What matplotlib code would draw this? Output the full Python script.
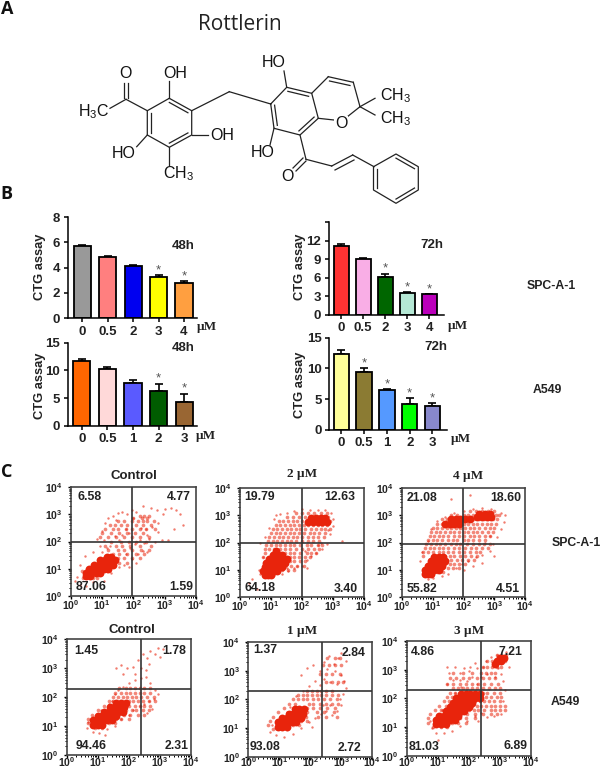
import numpy as np
import matplotlib
matplotlib.use('Agg')
import matplotlib.pyplot as plt

plt.rcParams['font.family'] = ['Liberation Sans', 'DejaVu Sans']
plt.rcParams['mathtext.fontset'] = 'custom'
plt.rcParams['mathtext.rm'] = 'Liberation Sans'
plt.rcParams['mathtext.bf'] = 'Liberation Sans:bold'

### BAR DATA ###
b1_labels = ['0', '0.5', '2', '3', '4']
b1_vals = [5.7, 4.85, 4.15, 3.25, 2.8]
b1_errs = [0.1, 0.05, 0.08, 0.15, 0.1]
b1_stars = [0, 0, 0, 1, 1]
b1_colors = ['#999999', '#FF7F7F', '#0000F0', '#FFFF00', '#FF9F40']

b2_labels = ['0', '0.5', '1', '2', '3']
b2_vals = [11.7, 10.2, 7.7, 6.3, 4.3]
b2_errs = [0.3, 0.4, 0.5, 1.3, 1.5]
b2_stars = [0, 0, 0, 1, 1]
b2_colors = ['#FF6600', '#FFD9D9', '#5A5AFF', '#005C00', '#996633']

b3_labels = ['0', '0.5', '2', '3', '4']
b3_vals = [11.2, 9.05, 6.2, 3.5, 3.3]
b3_errs = [0.2, 0.1, 0.45, 0.15, 0.05]
b3_stars = [0, 0, 1, 1, 1]
b3_colors = ['#FF3333', '#F9AEE6', '#006600', '#B5E8D5', '#BB00BB']

b4_labels = ['0', '0.5', '1', '2', '3']
b4_vals = [12.3, 9.4, 6.5, 4.2, 3.9]
b4_errs = [0.7, 0.6, 0.15, 0.9, 0.4]
b4_stars = [0, 1, 1, 1, 1]
b4_colors = ['#FFFF99', '#8B7B33', '#5599FF', '#00FF00', '#8888CC']

### FLOW DATA, log10 of both channels: rows are (y, [x, ...]) ###
c1_core = [(.72,[.5,.62]),(.85,[.5,.65,.8,.95]),(1.0,[.6,.75,.9,1.05,1.2]),(1.15,[.75,.9,1.05,1.2,1.35]),(1.3,[.95,1.1,1.25,1.4]),(1.42,[1.15,1.3])]
c1_fill = [(2.95,[2.2,2.35,2.5]),(2.88,[2.0,2.28,2.42]),(2.75,[1.5,1.7,1.95,2.15,2.3,2.45,2.65]),(2.6,[1.25,1.4,1.6,1.8,2.1,2.3,2.55]),(2.45,[1.1,1.35,1.5,1.75,1.95,2.2,2.4,2.7]),(2.3,[1.0,1.3,1.55,1.8,2.05,2.3]),(2.15,[.95,1.2,1.45,1.7,1.95,2.2,2.5]),(2.0,[1.3,1.6,1.85,2.1,2.4]),(1.85,[1.1,1.45,1.65,1.9,2.2,2.55]),(1.7,[1.2,1.5,1.7,1.95,2.25,2.5]),(1.55,[1.35,1.55,1.8,2.1,2.35]),(1.4,[1.5,1.7,1.95,2.2]),(1.2,[1.55,1.8]),(.9,[.35,1.15]),(.65,[.4,.7,.85])]
c1_sparse = [(1.0,2.4),(1.1,2.7),(1.2,2.85),(1.35,2.95),(1.5,3.05),(1.65,3.1),(1.8,3.0),(1.95,3.15),(2.1,3.1),(2.0,2.85),(1.85,2.3),(1.65,2.25),(1.4,2.2),(1.05,2.05),(.85,2.1),(1.25,1.85),(1.75,1.55),(1.9,1.75),(2.05,1.9),(2.2,2.05),(2.35,1.95),(2.5,2.1),(2.7,2.0),(2.9,2.05),(3.1,2.05),(2.4,2.45),(2.6,2.55),(2.8,2.7),(2.95,3.0),(2.75,3.15),(3.0,3.2),(3.2,3.22),(3.35,3.15),(3.5,3.0),(3.6,2.6),(2.55,3.25),(2.3,3.3),(2.15,1.55),(2.3,1.65),(2.45,1.6),(1.95,1.35),(2.1,1.2),(1.7,1.15),(1.85,1.05),(.3,1.15),(.2,.7),(.15,.55),(.3,.4),(.5,.35),(.7,.5),(1.05,.55),(1.3,.85),(1.55,1.05),(.45,1.45),(.7,1.6),(1.0,1.6),(1.15,1.75),(.95,1.85),(1.45,2.8),(1.75,2.45),(2.25,2.5),(2.45,2.25),(1.55,2.05),(2.8,2.35),(3.3,2.45)]

c2_core = [(.8,[.8,.9,1.0]),(.95,[.75,.9,1.05,1.2]),(1.1,[.8,.95,1.1,1.25,1.35]),(1.25,[.85,1.0,1.15,1.3,1.45]),(1.4,[.95,1.1,1.25,1.4,1.5]),(1.55,[1.05,1.2,1.35]),(1.7,[1.15]),(2.9,[2.3,2.45,2.6,2.75]),(2.75,[2.2,2.35,2.5,2.65,2.8])]
c2_fill = [(3.1,[1.8,2.0,2.2,2.4,2.6,2.8]),(2.95,[1.5,1.7,1.9,2.1,2.3,2.4,2.55,2.7,2.85]),(2.8,[1.25,1.4,1.55,1.7,1.85,2.0,2.15,2.3,2.45,2.6,2.75,2.9]),(2.65,[1.15,1.3,1.45,1.6,1.75,1.9,2.05,2.2,2.35,2.5,2.65,2.8]),(2.5,[1.05,1.2,1.35,1.5,1.65,1.8,1.95,2.1,2.3,2.45,2.6,2.75,2.9]),(2.35,[1.0,1.15,1.3,1.45,1.6,1.75,1.9,2.05,2.25,2.4,2.55,2.75]),(2.2,[.95,1.1,1.25,1.4,1.55,1.7,1.85,2.0,2.2,2.35,2.5,2.7]),(2.05,[.9,1.05,1.2,1.35,1.5,1.65,1.8,2.0,2.2,2.35,2.55]),(1.9,[.85,1.0,1.15,1.3,1.45,1.6,1.75,1.95,2.15,2.3,2.5,2.65]),(1.75,[.8,.95,1.1,1.3,1.45,1.6,1.8,2.0,2.2,2.4,2.55]),(1.6,[.8,1.3,1.45,1.6,1.75,1.95,2.15,2.3,2.45]),(1.45,[.75,1.4,1.6,1.75,1.9,2.1,2.25]),(1.3,[1.4,1.6,1.75,1.95,2.1]),(1.15,[1.45,1.65,1.85,2.05]),(1.0,[1.35,1.55,1.75])]
c2_sparse = [(.6,1.0),(.65,.85),(.75,.75),(.9,.72),(1.1,.8),(1.35,.85),(1.55,.95),(1.75,1.05),(2.0,1.15),(2.15,1.35),(2.3,1.5),(2.45,1.6),(2.65,1.75),(2.8,1.95),(2.9,2.3),(3.0,2.6),(3.0,2.85),(2.95,3.1),(2.75,3.2),(2.5,3.2),(2.25,3.2),(2.0,3.22),(1.75,3.15),(1.5,3.1),(1.3,3.05),(1.1,2.85),(.95,2.55),(.8,2.2),(.65,2.0),(.75,1.45),(.55,.3),(.3,.5),(.4,.65),(1.25,1.65),(2.1,1.7),(2.5,1.9),(2.6,2.0),(2.85,2.45),(1.15,3.0),(3.3,2.05),(2.15,1.05),(1.85,1.15),(1.5,1.05)]

c3_core = [(.85,[.75,.85,.95]),(1.0,[.75,.9,1.05,1.2]),(1.15,[.85,1.0,1.15,1.3]),(1.3,[.95,1.1,1.25,1.4]),(1.45,[1.05,1.2,1.35]),(2.95,[2.45,2.6,2.75,2.9]),(3.05,[2.5,2.7,2.85]),(2.85,[1.6,1.75,1.9,2.05,2.2]),(2.7,[1.4,1.55,1.7,1.85])]
c3_fill = [(3.15,[2.2,2.4,2.6,2.8,3.0]),(3.0,[1.6,1.8,2.0,2.15,2.3,3.05,3.15]),(2.85,[1.3,1.45,2.35,2.5,2.65,2.8,2.95,3.1]),(2.7,[1.15,1.3,2.0,2.15,2.3,2.45,2.6,2.75,2.9,3.05]),(2.55,[1.0,1.15,1.3,1.45,1.6,1.75,1.9,2.05,2.2,2.35,2.5,2.7,2.85,3.0]),(2.4,[.95,1.1,1.25,1.4,1.55,1.7,1.85,2.0,2.15,2.3,2.45,2.6,2.8,2.95]),(2.25,[.9,1.05,1.2,1.35,1.5,1.7,1.85,2.0,2.2,2.35,2.5,2.7,2.85]),(2.1,[.85,1.0,1.15,1.3,1.5,1.65,1.8,2.0,2.15,2.3,2.5,2.7]),(1.95,[.8,.95,1.1,1.25,1.4,1.6,1.75,1.9,2.1,2.3,2.5,2.65,2.85]),(1.8,[.75,.9,1.05,1.2,1.35,1.5,1.7,1.85,2.05,2.25,2.4,2.6,2.8]),(1.65,[.7,.85,1.0,1.2,1.35,1.5,1.65,1.85,2.0,2.2,2.4,2.55]),(1.5,[.7,1.4,1.55,1.7,1.9,2.05,2.25,2.45]),(1.35,[1.45,1.6,1.8,1.95,2.15,2.35]),(1.2,[1.4,1.55,1.7,1.85,2.05]),(1.05,[1.3,1.5,1.65,1.85]),(.9,[1.15,1.35])]
c3_sparse = [(.75,.8),(.7,.95),(.85,.65),(1.0,.7),(1.3,.75),(1.5,.85),(1.75,1.05),(1.95,1.2),(2.15,1.3),(2.4,1.45),(2.6,1.55),(2.85,1.7),(2.95,1.95),(3.1,2.2),(3.2,2.5),(3.3,2.75),(3.35,3.0),(3.2,3.1),(2.9,3.25),(2.6,3.28),(2.3,3.25),(2.0,3.15),(1.7,3.1),(1.4,2.95),(1.15,2.8),(.95,2.5),(.85,2.05),(.65,1.65),(.6,1.3),(1.6,3.6),(2.2,3.75),(2.6,1.25),(2.3,1.15),(2.0,1.0),(1.25,1.55),(2.7,2.0),(2.85,2.25),(3.0,1.5)]

c4_core = [(1.05,[.85,1.0,1.15]),(1.2,[.85,1.0,1.15,1.3,1.45]),(1.35,[1.0,1.15,1.3,1.45,1.6]),(1.5,[1.2,1.35,1.5,1.65,1.8]),(1.65,[1.4,1.55,1.7,1.85]),(1.8,[1.6,1.75,1.9])]
c4_fill = [(2.3,[1.7,1.9,2.05,2.2,2.35,2.5,2.7]),(2.15,[1.55,1.75,1.9,2.05,2.2,2.35,2.5,2.7]),(2.0,[1.5,1.65,1.8,1.95,2.1,2.25,2.4,2.6,2.8]),(1.85,[1.35,1.5,2.0,2.15,2.3,2.45,2.65,2.85]),(1.7,[1.2,1.35,2.0,2.2,2.35,2.5,2.7]),(1.55,[1.0,1.9,2.1,2.25,2.45,2.65]),(1.4,[.8,1.85,2.05,2.3,2.5]),(1.25,[.7,1.6,1.75,2.0]),(1.1,[.7,1.35,1.55]),(.95,[.9,1.15])]
c4_sparse = [(.7,1.15),(.65,.95),(.85,.8),(1.05,.75),(1.3,.9),(1.55,1.0),(1.75,1.25),(2.0,1.4),(2.15,1.55),(2.35,1.7),(2.5,1.75),(2.65,1.85),(2.8,1.95),(2.95,2.1),(2.85,2.25),(2.7,2.5),(2.55,2.7),(2.4,2.65),(2.2,2.6),(2.0,2.5),(1.8,2.35),(1.65,2.25),(1.55,2.1),(1.45,1.85),(1.35,1.75),(1.8,2.8),(1.6,3.0),(1.75,3.1),(1.95,3.0),(2.15,3.05),(2.3,3.3),(2.45,3.5),(2.6,3.35),(2.7,3.6),(2.85,3.5),(3.0,3.4),(3.1,3.65),(2.95,3.7),(2.65,3.15),(2.4,3.0),(2.55,2.95),(2.2,2.8),(1.25,.7),(2.75,1.6),(2.6,1.45),(1.1,1.55)]

c5_core = [(1.05,[.95,1.1,1.25]),(1.2,[.95,1.1,1.25,1.4,1.55]),(1.35,[1.1,1.25,1.4,1.55,1.7]),(1.5,[1.3,1.45,1.6,1.75]),(1.65,[1.5,1.65,1.8])]
c5_fill = [(3.45,[2.55,2.8,2.95]),(3.2,[2.4,2.6,2.8,3.0]),(2.9,[2.3,2.5,2.7,2.95]),(2.6,[2.5,2.7,2.9,3.05]),(2.3,[1.9,2.05,2.2,2.35,2.5,2.7]),(2.15,[1.6,1.75,1.9,2.05,2.2,2.35,2.5,2.7,2.9]),(2.0,[1.45,1.6,1.75,1.9,2.1,2.25,2.45,2.65,2.85]),(1.85,[1.3,1.5,1.95,2.1,2.3,2.5,2.7,2.9]),(1.7,[1.15,1.9,2.1,2.3,2.55,2.8]),(1.55,[.95,1.9,2.2,2.45,2.75]),(1.4,[.8,1.85,2.25,2.5,2.85]),(1.25,[.7,1.7,1.9]),(1.1,[.65,1.45,1.65]),(.95,[.8,1.25])]
c5_sparse = [(.7,.85),(.75,1.1),(.9,.75),(1.15,.7),(1.45,.8),(1.7,1.0),(1.95,1.2),(2.15,1.35),(2.35,1.5),(2.5,1.6),(2.7,1.45),(2.85,1.6),(3.0,1.8),(2.95,2.0),(3.05,2.2),(3.15,2.4),(3.1,2.65),(3.0,2.85),(2.85,2.55),(2.65,2.6),(2.45,2.7),(2.3,2.5),(2.15,2.65),(1.95,2.45),(1.75,2.3),(1.55,2.1),(1.35,1.75),(1.5,1.6),(1.7,2.85),(1.9,3.1),(2.1,3.2),(2.3,3.0),(2.45,3.3),(2.6,3.5),(2.75,3.25),(2.9,3.45),(3.0,3.6),(3.15,3.35),(2.55,3.05),(2.8,3.0),(2.65,1.8),(2.4,1.8),(1.25,1.55),(2.05,1.05)]

c6_core = [(1.1,[.95,1.1,1.25]),(1.25,[.95,1.1,1.25,1.4,1.55]),(1.4,[1.05,1.2,1.35,1.5,1.65]),(1.55,[1.25,1.4,1.55,1.7,1.85]),(1.7,[1.4,1.55,1.7,1.85,2.0]),(1.85,[1.5,1.65,1.8,1.95,2.1]),(2.0,[1.6,1.75,1.9,2.05,2.2,2.35]),(2.15,[1.75,1.9,2.05,2.2,2.35]),(3.3,[2.9,3.05]),(3.4,[3.0,3.12]),(3.2,[2.85])]
c6_fill = [(3.5,[2.9,3.05,3.2]),(3.3,[2.6,2.75,3.15]),(3.1,[2.45,2.6,2.75,2.9,3.05]),(2.9,[1.5,1.8,2.1,2.4,2.55,2.7,2.85]),(2.7,[1.4,1.6,1.8,2.0,2.25,2.45,2.65,2.85]),(2.5,[1.3,1.5,1.7,1.9,2.1,2.3,2.5,2.7,2.95]),(2.35,[1.5,1.65,1.8,1.95,2.1,2.25,2.45,2.65,2.85,3.0]),(2.2,[1.4,1.55,1.7,2.45,2.6,2.8,3.0]),(2.05,[1.3,1.45,2.4,2.55,2.7,2.9,3.05]),(1.9,[1.2,1.35,2.2,2.35,2.5,2.65,2.8,3.0]),(1.75,[1.05,1.25,2.1,2.25,2.4,2.55,2.7,2.85,3.0,3.15]),(1.6,[.9,1.1,2.0,2.15,2.3,2.5,2.7,2.85,3.0,3.15]),(1.45,[.75,1.75,1.95,2.2,2.45,2.7,2.9]),(1.3,[.7,1.7,1.9,2.2]),(1.15,[.7,1.45,1.65,1.9]),(1.0,[.85,1.1,1.3])]
c6_sparse = [(.75,1.2),(.8,.95),(.95,.8),(1.2,.8),(1.45,.85),(1.7,1.05),(1.95,1.2),(2.2,1.4),(2.4,1.5),(2.6,1.35),(2.8,1.4),(3.05,1.45),(3.1,1.9),(3.15,2.3),(3.1,2.6),(3.05,2.85),(2.95,3.05),(2.6,2.85),(2.4,2.75),(2.25,2.5),(2.1,2.75),(1.95,2.6),(1.75,2.4),(1.55,2.2),(1.35,1.8),(1.35,2.9),(1.55,3.1),(1.7,2.9),(1.85,3.05),(2.05,3.1),(2.25,3.05),(1.3,2.5),(1.5,2.65),(1.7,2.65),(2.0,2.95),(2.2,3.25),(2.45,3.1),(2.55,3.3),(2.7,3.45),(2.9,3.5),(3.2,3.6),(3.3,3.1),(2.85,2.75),(1.15,1.6),(2.3,1.2),(1.3,3.1),(1.0,.55)]

### QUADRANT NUMBERS (UL, UR, LL, LR) ###
c1_nums = ['6.58', '4.77', '87.06', '1.59']
c2_nums = ['19.79', '12.63', '64.18', '3.40']
c3_nums = ['21.08', '18.60', '55.82', '4.51']
c4_nums = ['1.45', '1.78', '94.46', '2.31']
c5_nums = ['1.37', '2.84', '93.08', '2.72']
c6_nums = ['4.86', '7.21', '81.03', '6.89']

### STRUCTURE ###
ring_a = [(169.3,98.3),(191.7,110.7),(191.7,135),(169.3,147.3),(147.3,135),(147.3,110.7)]
ring_b = [(270.7,104),(286.7,87.3),(311.7,93.3),(318.3,118.3),(300,135),(274,128.3)]
ring_c = [(373.5,166.7),(396,154),(418.3,166.7),(418.3,190),(396,203.3),(373.5,190)]
bonds = [((147.3,110.7),(126,99.3)),((126,99.3),(110,108.3)),((169.3,98.3),(169.3,81)),
         ((147.3,135),(136.7,146.7)),((169.3,147.3),(169.3,165)),((191.7,135),(208,135)),
         ((191.7,110.7),(229.3,91.7)),((229.3,91.7),(270.7,104)),((286.7,87.3),(284,71)),
         ((274,128.3),(270,145)),((311.7,93.3),(328.3,76.7)),((328.3,76.7),(353.3,82.3)),
         ((353.3,82.3),(360,106.7)),((360,106.7),(347,117)),((334,120),(318.3,118.3)),
         ((360,106.7),(375,98.3)),((360,106.7),(375,115)),((300,135),(306,159.3)),
         ((306,159.3),(331.7,166)),((331.7,166),(352.7,155)),((352.7,155),(374,166.7))]
extra_lines = [((123.5,98),(123.5,83)),((127.5,98),(127.5,83)),((329.5,81),(350,85.5)),
               ((303,158),(293,168)),((306,161),(296,171)),((335,170),(354,160))]
ring_doubles = [(ring_a,[0,2,4]),(ring_b,[1,3,5]),(ring_c,[5,1,3])]
atom_labels = [(125,74,'O'),(93.3,111.5,'H$_3$C'),(175,74,'OH'),(123.3,153.3,'HO'),(179,174,'CH$_3$'),
               (222,135.5,'OH'),(273.3,62.7,'HO'),(262.7,152.7,'HO'),(287.7,176.7,'O'),
               (341,123.5,'O'),(396,95.5,'CH$_3$'),(396,119,'CH$_3$')]

fig = plt.figure(figsize=(6, 7.69), dpi=100)


def box(l, t, r, b):
    return fig.add_axes([l/600, 1-b/769, (r-l)/600, (b-t)/769])


def rows_xy(rows):
    return [x for y, xs in rows for x in xs], [y for y, xs in rows for x in xs]


def bar_panel(pos, xlim, vals, errs, stars, colors, labels, ymax, yticks, ylabels, bw):
    ax = box(*pos)
    x = np.arange(5)
    ax.bar(x, vals, width=bw, color=colors, edgecolor='black', linewidth=1.3, zorder=2)
    ax.errorbar(x, vals, yerr=[np.zeros(5), errs], fmt='none', ecolor='black', elinewidth=1.2, capsize=3, capthick=1.2, zorder=1)
    for i in range(5):
        if stars[i]:
            ax.annotate('*', xy=(i, vals[i]+errs[i]), xytext=(0, 3.5), textcoords='offset points', ha='center', va='center',
                        fontsize=9.5, family='Liberation Sans', color='#555555')
    ax.set_xlim(*xlim)
    ax.set_ylim(0, ymax)
    ax.set_xticks(x)
    ax.set_xticklabels(labels, fontsize=9.5, fontweight='bold', color='#222222')
    ax.set_yticks(yticks)
    ax.set_yticklabels(ylabels, fontsize=9.5, fontweight='bold', color='#222222')
    ax.tick_params(length=3, width=1.1, pad=2.5)
    ax.spines['top'].set_visible(False)
    ax.spines['right'].set_visible(False)
    ax.spines['left'].set_linewidth(1.1)
    ax.spines['bottom'].set_linewidth(1.1)
    ax.patch.set_alpha(0)
    return ax


def flow_panel(pos, gate_x, gate_y, core, fill, sparse, xpad=-1):
    ax = box(*pos)
    pts = np.array(sparse)
    ax.scatter(pts[:, 0], pts[:, 1], s=3, color='#E8240C', alpha=0.6, linewidths=0, zorder=2)
    fx, fy = rows_xy(fill)
    ax.scatter(fx, fy, s=7, color='#E8240C', alpha=0.55, linewidths=0, zorder=2)
    cx, cy = rows_xy(core)
    ax.scatter(cx, cy, s=32, color='#E8240C', linewidths=0, zorder=2)
    ax.axvline(gate_x, color='#333333', lw=1.2, zorder=3)
    ax.axhline(gate_y, color='#333333', lw=1.2, zorder=3)
    ax.set_xlim(0, 4)
    ax.set_ylim(0, 4)
    major = [0, 1, 2, 3, 4]
    minor = [n+np.log10(k) for n in range(4) for k in range(2, 10)]
    names = [r'$\mathbf{10^{%d}}$' % n for n in major]
    ax.set_xticks(major)
    ax.set_yticks(major)
    ax.set_xticklabels(names, fontsize=7.5, color='#222222')
    ax.set_yticklabels(names, fontsize=7.5, color='#222222')
    ax.set_xticks(minor, minor=True)
    ax.set_yticks(minor, minor=True)
    ax.tick_params(which='major', length=2.5, width=1)
    ax.tick_params(axis='x', which='major', pad=xpad)
    ax.tick_params(axis='y', which='major', pad=3.5)
    ax.tick_params(which='minor', length=1.5, width=0.7)
    for s in ax.spines.values():
        s.set_linewidth(1.2)
        s.set_color('#444444')
    return ax


### PAINEL B ###
bar_panel((68, 217.3, 197, 318), (-0.55, 4.51), b1_vals, b1_errs, b1_stars, b1_colors, b1_labels, 8,
          [0, 2, 4, 6, 8], ['0', '2', '4', '6', '8'], 0.667)
bar_panel((67.7, 342.7, 197, 425.7), (-0.55, 4.5), b2_vals, b2_errs, b2_stars, b2_colors, b2_labels, 15,
          [0, 5, 10, 15], ['0', '5', '10', '15'], 0.667)
bar_panel((329, 222.3, 444, 314.7), (-0.55, 4.67), b3_vals, b3_errs, b3_stars, b3_colors, b3_labels, 15,
          [0, 3, 6, 9, 12, 15], ['0', '3', '6', '9', '12', ''], 0.69)
bar_panel((329.3, 337.7, 447.3, 429.7), (-0.53, 4.65), b4_vals, b4_errs, b4_stars, b4_colors, b4_labels, 15,
          [0, 5, 10, 15], ['0', '5', '10', '15'], 0.68)

### PAINEL C ###
flow_panel((70.7, 487.3, 196, 595.7), 1.96, 1.97, c1_core, c1_fill, c1_sparse)
flow_panel((240, 488.3, 364, 596.7), 2.0, 1.97, c2_core, c2_fill, c2_sparse)
flow_panel((401.7, 488.3, 525.3, 596.7), 1.97, 1.93, c3_core, c3_fill, c3_sparse)
flow_panel((66.7, 639.3, 190.7, 755), 2.39, 2.29, c4_core, c4_fill, c4_sparse, xpad=-2.5)
flow_panel((248.3, 642, 372.3, 756.7), 2.39, 2.29, c5_core, c5_fill, c5_sparse, xpad=-3.5)
flow_panel((406.7, 641, 531, 755.7), 2.38, 2.28, c6_core, c6_fill, c6_sparse, xpad=-3)

### OVERLAY EM PIXELS ###
ov = fig.add_axes([0, 0, 1, 1], zorder=10)
ov.set_xlim(0, 600)
ov.set_ylim(769, 0)
ov.axis('off')

for ring, doubles in ring_doubles:
    r = np.array(ring)
    center = r.mean(axis=0)
    ov.plot(*np.vstack([r, r[0]]).T, color='#222222', lw=0.9, solid_capstyle='round')
    for i in doubles:
        p, q = r[i], r[(i+1) % 6]
        p2 = p+(center-p)*0.17
        q2 = q+(center-q)*0.17
        ov.plot([p2[0], q2[0]], [p2[1], q2[1]], color='#222222', lw=0.9)
for p, q in bonds+extra_lines:
    ov.plot([p[0], q[0]], [p[1], q[1]], color='#222222', lw=0.9)
for x, y, s in atom_labels:
    ov.text(x, y, s, ha='center', va='center', fontsize=11.5, color='#111111',
            bbox=dict(facecolor='white', edgecolor='none', pad=0.3) if s == 'O' else None)

ov.text(7, 9, 'A', ha='center', va='center', fontsize=13, fontweight='bold', family='Open Sans', color='#111111')
ov.text(6, 194, 'B', ha='center', va='center', fontsize=13, fontweight='bold', family='Open Sans', color='#111111')
ov.text(7, 472, 'C', ha='center', va='center', fontsize=13, fontweight='bold', family='Open Sans', color='#111111')
ov.text(240, 25, 'Rottlerin', ha='center', va='center', fontsize=15, family='Open Sans', color='#222222')

for x, y in [(40, 267), (40, 386), (300.5, 267), (300.5, 385)]:
    ov.text(x, y, 'CTG assay', rotation=90, ha='center', va='center', fontsize=9.3, fontweight='bold', color='#222222')
for x, y, s in [(182.7, 246, '48h'), (183.3, 348.3, '48h'), (431.7, 245, '72h'), (435.7, 347.3, '72h')]:
    ov.text(x, y, s, ha='center', va='center', fontsize=9.5, fontweight='bold', color='#222222')
for x, y, s in [(551, 286, 'SPC-A-1'), (547.3, 390, 'A549')]:
    ov.text(x, y, s, ha='center', va='center', fontsize=8.8, fontweight='bold', color='#222222')
for x, y in [(207.3, 327.3), (206, 436), (458.3, 325.7), (460.7, 439)]:
    ov.text(x, y, 'µM', ha='center', va='center', fontsize=9.5, fontweight='bold', family='Liberation Serif', color='#222222')

for x, y, s in [(134, 475.7, 'Control'), (132, 630, 'Control')]:
    ov.text(x, y, s, ha='center', va='center', fontsize=9.5, fontweight='bold', color='#222222')
for x, y, s in [(302, 474, '2 µM'), (467.7, 475.7, '4 µM'), (302, 631, '1 µM'), (469, 630.7, '3 µM')]:
    ov.text(x, y, s, ha='center', va='center', fontsize=9.5, fontweight='bold', family='Liberation Serif', color='#222222')
ov.text(576, 542.7, 'SPC-A-1', ha='center', va='center', fontsize=8.8, fontweight='bold', color='#222222')
ov.text(565.7, 702.3, 'A549', ha='center', va='center', fontsize=8.8, fontweight='bold', color='#222222')

num_pos = [[(90, 496.7), (179, 496.7), (90.7, 587), (181, 587)],
           [(259.3, 497.3), (340, 497.3), (260, 588.3), (345.7, 589)],
           [(422.3, 497.7), (506, 497.7), (421.7, 589), (507.7, 589)],
           [(86.7, 650.7), (174, 650.7), (90.7, 745.7), (176.7, 745.7)],
           [(265, 650), (354, 653.3), (265, 747.3), (350, 748)],
           [(422.7, 652.3), (510.7, 652.3), (424, 747.3), (516, 745.7)]]
for nums, where in zip([c1_nums, c2_nums, c3_nums, c4_nums, c5_nums, c6_nums], num_pos):
    for s, (x, y) in zip(nums, where):
        ov.text(x, y, s, ha='center', va='center', fontsize=8.8, fontweight='bold', color='#222222')

plt.savefig('out.png', dpi=100)
